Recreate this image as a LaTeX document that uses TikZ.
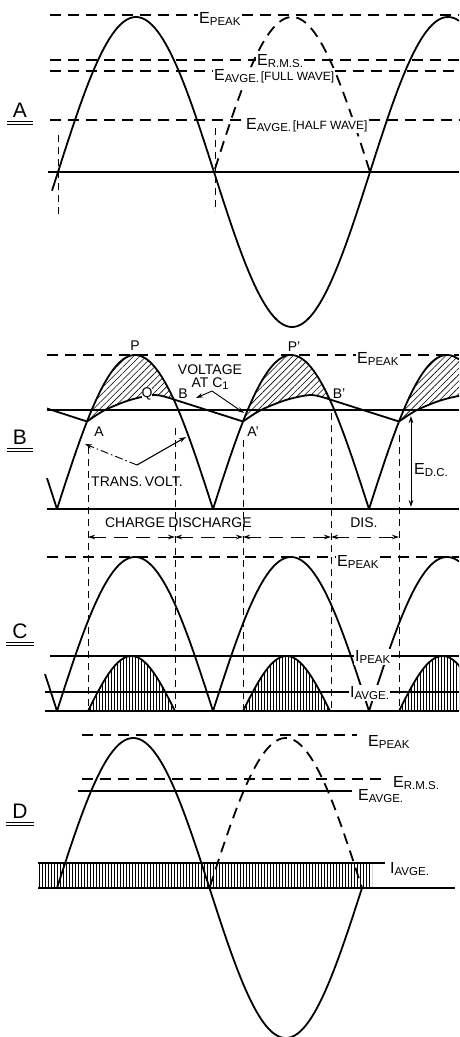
\documentclass[tikz,border=0pt]{standalone}
\usepackage{fontspec}
\setmainfont{Liberation Sans}
\usetikzlibrary{arrows.meta,patterns.meta}

% symbol with small lowered subscript, e.g. E_PEAK
\newcommand{\sym}[2]{{\fontsize{16}{16}\selectfont #1}\raisebox{-2.5pt}{\fontsize{11.5}{12}\selectfont #2}}
\newcommand{\brk}[1]{{\fontsize{12}{12}\selectfont #1}}

\begin{document}
\begin{tikzpicture}[x=1pt, y=-1pt,
    wave/.style={line width=1.8pt, line join=round},
    dwave/.style={line width=1.8pt, dash pattern=on 11pt off 7pt},
    base/.style={line width=2.4pt},
    level/.style={line width=1.1pt, dash pattern=on 11pt off 7pt},
    flat/.style={line width=1.3pt},
    guide/.style={line width=0.9pt, dash pattern=on 7pt off 5pt},
    hatch/.style={pattern={Lines[angle=45,distance=4.5pt,line width=0.6pt]}},
    vhatch/.style={pattern={Lines[angle=90,distance=3pt,line width=0.7pt]}},
    sig/.style={inner sep=1pt, fill=white},
    txt/.style={inner sep=1pt, font=\fontsize{14}{15}\selectfont},
    panel/.style={inner sep=1pt, font=\fontsize{21}{21}\selectfont},
    >={Stealth[length=7pt,width=4.5pt]},
  ]
  \useasboundingbox (0,0) rectangle (459,1037);

  % panel letters
  \foreach \p/\y in {A/110, B/437, C/631, D/811} {
    \node[panel] (lt\p) at (20,\y) {\p};
    \draw[line width=0.8pt] ([xshift=-5pt,yshift=-4pt]lt\p.base west) -- ([xshift=5pt,yshift=-4pt]lt\p.base east);
    \draw[line width=0.8pt] ([xshift=-5pt,yshift=-7pt]lt\p.base west) -- ([xshift=5pt,yshift=-7pt]lt\p.base east);
  }

  % ===== A : sine wave and its averages
  \draw[base] (48,172) -- (459,172);
  \draw[wave] plot[domain=52:459, samples=200] (\x, {172-155*sin((\x-58)/312*360)});
  \draw[dwave] plot[domain=215:370, samples=80] (\x, {172+155*sin((\x-58)/312*360)});
  \draw[guide] (58,135) -- (58,218);
  \draw[guide] (215,128) -- (215,212);
  \coordinate (apkl) at (50,15);   \coordinate (apkr) at (459,15);
  \coordinate (armsl) at (50,60);  \coordinate (armsr) at (459,60);
  \coordinate (afwl) at (50,71);   \coordinate (afwr) at (459,71);
  \coordinate (ahwl) at (50,120);  \coordinate (ahwr) at (459,120);
  \node[sig, anchor=west] (apk) at (198,19) {\sym{E}{PEAK}};
  \node[sig, anchor=west] (arms) at (256,61) {\sym{E}{R.M.S.}};
  \node[sig, anchor=west] (afw) at (213,76) {\sym{E}{AVGE.}\,\brk{[FULL WAVE]}};
  \node[sig, anchor=west] (ahw) at (245,125) {\sym{E}{AVGE.}\,\brk{[HALF WAVE]}};
  \draw[level] (apkl) -- (apkl -| apk.west);   \draw[level] (apkl -| apk.east) -- (apkr);
  \draw[level] (armsl) -- (armsl -| arms.west); \draw[level] (armsl -| arms.east) -- (armsr);
  \draw[level] (afwl) -- (afwl -| afw.west);   \draw[level] (afwl -| afw.east) -- (afwr);
  \draw[level] (ahwl) -- (ahwl -| ahw.west);   \draw[level] (ahwl -| ahw.east) -- (ahwr);

  % ===== B : transformer voltage and voltage at C1
  \begin{scope}
    \clip (0,330) rectangle (459,515);
    \foreach \s in {0,156,312} {
      \begin{scope}[xshift=\s]
        \fill[hatch] plot[domain=87:174, samples=40] (\x, {509-154*abs(sin((\x-57)/312*360))})
          -- plot[smooth] coordinates {(174,399.5) (155,395) (130,400) (105,410) (87,421.5)} -- cycle;
        \draw[wave] plot[smooth] coordinates {(87,421.5) (105,410) (130,400) (155,395) (174,399.5)} -- (243,421.5);
      \end{scope}
    }
    \draw[wave] (47,408.5) -- (87,421.5);
    \draw[flat] (47,410) -- (459,410);
    \draw[base] (47,509) -- (459,509);
    \draw[wave] plot[domain=47:459, samples=413] (\x, {509-154*abs(sin((\x-57)/312*360))});
  \end{scope}
  \coordinate (bpkl) at (47,355);  \coordinate (bpkr) at (459,355);
  \node[sig, anchor=west] (bpk) at (356,359) {\sym{E}{PEAK}};
  \draw[level] (bpkl) -- (bpkl -| bpk.west);  \draw[level] (bpkl -| bpk.east) -- (bpkr);
  \node[txt] (pP) at (135,346) {P};
  \node[txt] (pP2) at (294,347) {P’};
  \node[txt, fill=white, inner sep=0pt] (pQ) at (147,394) {Q};
  \node[txt] (pB) at (183,394) {B};
  \node[txt] (pB2) at (339,394) {B’};
  \node[txt] (pA) at (99,432) {A};
  \node[txt] (pA2) at (253,432) {A’};
  \node[txt, align=center] (vlt) at (210,377) {VOLTAGE\\[-2pt]AT C\raisebox{-2pt}{\fontsize{11}{11}\selectfont 1}};
  \coordinate (vj) at (212,391);
  \coordinate (vc1) at (196,398);
  \coordinate (vc2) at (244,413);
  \draw[->, line width=0.9pt] (vj) -- (vc1);
  \draw[->, line width=0.9pt] (vj) -- (vc2);
  \node[txt] (tv) at (137,482) {TRANS.\,VOLT.};
  \coordinate (tj) at (137,465);
  \coordinate (tv1) at (85,444);
  \coordinate (tv2) at (186,437);
  \draw[->, line width=0.9pt, dash pattern=on 8pt off 3pt on 1.5pt off 3pt] (tj) -- (tv1);
  \draw[->, line width=1.1pt] (tj) -- (tv2);
  \coordinate (dct) at (411,416);
  \coordinate (dcb) at (411,507);
  \draw[<->, line width=1pt] (dct) -- (dcb);
  \node[anchor=west, inner sep=1pt] (edc) at (413,470) {\sym{E}{D.C.}};

  % guides from B down through C
  \draw[guide] (88,447) -- (88,708);
  \draw[guide] (175,428) -- (175,708);
  \draw[guide] (243,440) -- (243,708);
  \draw[guide] (331,413) -- (331,708);
  \draw[guide] (399,435) -- (399,708);

  % charge / discharge intervals
  \foreach \n/\x in {1/88, 2/175, 3/243, 4/331, 5/399}
    \coordinate (d\n) at (\x,537);
  \foreach \a/\b in {1/2, 2/3, 3/4, 4/5}
    \draw[<->, line width=0.9pt, dash pattern=on 14pt off 8pt] (d\a) -- (d\b);
  \node[txt] (chg) at (135,523) {CHARGE};
  \node[txt] (dchg) at (210,523) {DISCHARGE};
  \node[txt] (dis) at (364,523) {DIS.};

  % ===== C : rectifier current pulses
  \begin{scope}
    \clip (0,540) rectangle (459,720);
    \foreach \s in {0,155,311} {
      \begin{scope}[xshift=\s]
        \fill[vhatch] plot[domain=88:175, samples=40] (\x, {711-55*sin((\x-88)/87*180)}) -- cycle;
        \draw[wave] plot[domain=88:175, samples=40] (\x, {711-55*sin((\x-88)/87*180)});
      \end{scope}
    }
    \draw[base] (45,711) -- (459,711);
    \draw[flat] (50,656) -- (459,656);
    \draw[flat] (45,692) -- (459,692);
    \draw[wave] plot[domain=45:459, samples=415] (\x, {711-154*abs(sin((\x-57)/312*360))});
  \end{scope}
  \coordinate (cpkl) at (47,557);  \coordinate (cpkr) at (459,557);
  \node[sig, anchor=west] (cpk) at (336,562) {\sym{E}{PEAK}};
  \draw[level] (cpkl) -- (cpkl -| cpk.west);  \draw[level] (cpkl -| cpk.east) -- (cpkr);
  \node[sig, anchor=west] (cipk) at (354,657) {\sym{I}{PEAK}};
  \node[sig, anchor=west] (ciav) at (349,693) {\sym{I}{AVGE.}};

  % ===== D : full wave, steady current
  \fill[vhatch] (38,863) rectangle (372,888);
  \draw[base] (38,888) -- (455,888);
  \draw[wave] plot[domain=57:362, samples=200] (\x, {888-150*sin((\x-57)/305*360)});
  \draw[dwave] plot[domain=210:362, samples=80] (\x, {888+150*sin((\x-57)/305*360)});
  \node[anchor=west, inner sep=1pt] (dpk) at (367,742) {\sym{E}{PEAK}};
  \node[anchor=west, inner sep=1pt] (drms) at (392,783) {\sym{E}{R.M.S.}};
  \node[anchor=west, inner sep=1pt] (dav) at (357,796) {\sym{E}{AVGE.}};
  \node[anchor=west, inner sep=1pt] (diav) at (389,869) {\sym{I}{AVGE.}};
  \coordinate (dpkl) at (82,735);
  \coordinate (drmsl) at (82,779);
  \coordinate (davl) at (78,791);
  \coordinate (diavl) at (38,863);
  \draw[level] (dpkl) -- ([xshift=-10pt]dpkl -| dpk.west);
  \draw[level] (drmsl) -- ([xshift=-10pt]drmsl -| drms.west);
  \draw[flat] (davl) -- ([xshift=-5pt]davl -| dav.west);
  \draw[flat] (diavl) -- ([xshift=-4pt]diavl -| diav.west);
\end{tikzpicture}
\end{document}
